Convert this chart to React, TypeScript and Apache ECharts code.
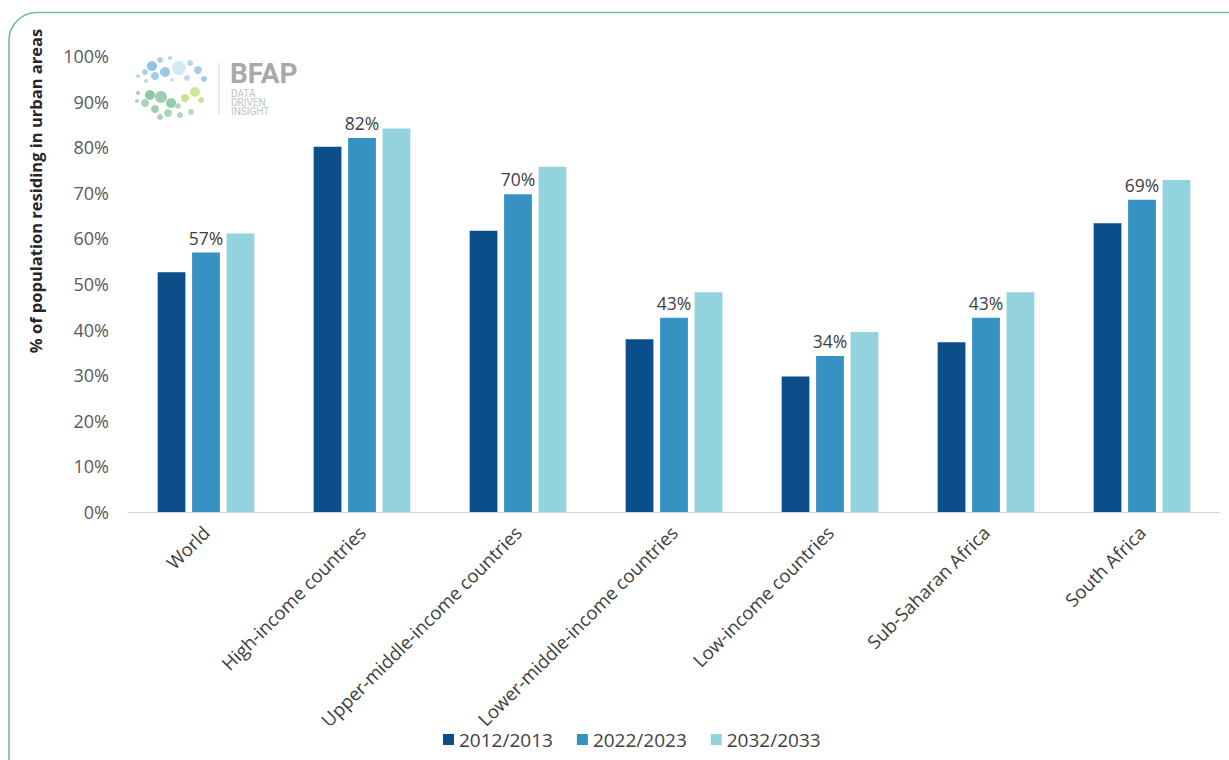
import React, { useEffect, useRef } from "react";
import * as echarts from "echarts";

const categories = [
  "World",
  "High-income countries",
  "Upper-middle-income countries",
  "Lower-middle-income countries",
  "Low-income countries",
  "Sub-Saharan Africa",
  "South Africa",
];
const seriesNames = ["2012/2013", "2022/2023", "2032/2033"];
const values2012 = [52.6, 80.1, 61.7, 37.9, 29.7, 37.2, 63.3];
const values2022 = [56.9, 82.0, 69.7, 42.6, 34.2, 42.6, 68.5];
const values2032 = [61.1, 84.1, 75.7, 48.2, 39.5, 48.2, 72.8];
const yTicks = [0, 10, 20, 30, 40, 50, 60, 70, 80, 90, 100];

const colors = ["#0b4e8a", "#3592c2", "#93d3dd"];
const FONT = "'Open Sans', 'Noto Sans', sans-serif";

const logoBlue: [number, number, number, string][] = [
  [152, 66, 5, "#8fc2e0"],
  [145, 72, 3, "#a9d1e8"],
  [138, 76, 2, "#b7d9ec"],
  [160, 60, 3, "#a9d1e8"],
  [170, 58, 2, "#b7d9ec"],
  [179, 68, 7, "#d3e9f2"],
  [165, 72, 5, "#9cc9e3"],
  [155, 76, 4, "#a3cde6"],
  [190, 63, 3, "#b4d8eb"],
  [198, 70, 4, "#a6d0e6"],
  [204, 79, 3, "#9ccbe4"],
  [187, 78, 3, "#b9dbed"],
  [146, 81, 2, "#b7d9ec"],
  [172, 80, 2, "#c5e1ef"],
];
const logoGreen: [number, number, number, string][] = [
  [138, 93, 2, "#9fd3b4"],
  [150, 95, 5, "#8fcaa6"],
  [161, 97, 6, "#9ccfae"],
  [171, 103, 5, "#95cba8"],
  [145, 103, 4, "#a6d6b8"],
  [155, 109, 4, "#9ccfae"],
  [168, 113, 4, "#a6d6b8"],
  [180, 115, 3, "#aad8bb"],
  [191, 112, 3, "#b3dbc0"],
  [185, 98, 4, "#c6e08c"],
  [195, 92, 5, "#d0e59c"],
  [201, 100, 3, "#c9e39a"],
  [178, 106, 3, "#b5dcb6"],
  [160, 117, 3, "#a6d6b8"],
  [137, 101, 2, "#a6d6b8"],
];

export default function App() {
  const ref = useRef<HTMLDivElement>(null);

  useEffect(() => {
    if (!ref.current) return;
    const chart = echarts.init(ref.current, undefined, { renderer: "svg" });

    const logo: any[] = [...logoBlue, ...logoGreen].map(([cx, cy, r, c]) => ({
      type: "circle",
      shape: { cx, cy, r },
      style: { fill: c },
      silent: true,
    }));

    chart.setOption({
      animation: false,
      backgroundColor: "#ffffff",
      grid: { left: 128, right: 9, top: 56, bottom: 248, containLabel: false },
      legend: {
        data: seriesNames,
        bottom: 6,
        left: 438,
        icon: "rect",
        itemWidth: 11,
        itemHeight: 11,
        itemGap: 24,
        textStyle: { fontFamily: FONT, fontSize: 19, color: "#404040" },
      },
      xAxis: {
        type: "category",
        data: categories,
        axisLine: { show: true, lineStyle: { color: "#d9d9d9", width: 1 } },
        axisTick: { show: false },
        axisLabel: {
          rotate: 45,
          interval: 0,
          margin: 17,
          fontFamily: FONT,
          fontSize: 18.5,
          color: "#404040",
        },
      },
      yAxis: {
        type: "value",
        min: yTicks[0],
        max: yTicks[yTicks.length - 1],
        interval: 10,
        splitLine: { show: false },
        axisLine: { show: false },
        axisTick: { show: false },
        axisLabel: {
          formatter: "{value}%",
          margin: 19,
          fontFamily: FONT,
          fontSize: 18,
          color: "#595959",
        },
      },
      series: [
        {
          name: seriesNames[0],
          type: "bar",
          data: values2012,
          itemStyle: { color: colors[0] },
          barGap: "24%",
          barCategoryGap: "38%",
        },
        {
          name: seriesNames[1],
          type: "bar",
          data: values2022,
          itemStyle: { color: colors[1] },
          label: {
            show: true,
            position: "top",
            distance: 6,
            formatter: (p: any) => Math.round(p.value) + "%",
            fontFamily: FONT,
            fontSize: 17.5,
            color: "#404040",
          },
        },
        {
          name: seriesNames[2],
          type: "bar",
          data: values2032,
          itemStyle: { color: colors[2] },
        },
      ],
      graphic: [
        {
          type: "rect",
          shape: { x: 9, y: 12.5, width: 1400, height: 1000, r: 28 },
          style: { fill: "none", stroke: "#6fb8b4", lineWidth: 1.6 },
          silent: true,
          z: 100,
        },
        {
          type: "text",
          x: 35,
          y: 191,
          rotation: Math.PI / 2,
          style: {
            text: "% of population residing in urban areas",
            fontFamily: FONT,
            fontSize: 16.5,
            fontWeight: "bold",
            fill: "#262626",
            align: "center",
            verticalAlign: "middle",
          },
        },
        ...logo,
        {
          type: "line",
          shape: { x1: 219, y1: 63, x2: 219, y2: 114 },
          style: { stroke: "#d6d6d6", lineWidth: 1 },
        },
        {
          type: "text",
          x: 230,
          y: 59,
          style: {
            text: "BFAP",
            fontFamily: "Roboto, 'Noto Sans', sans-serif",
            fontSize: 28,
            fontWeight: "bold",
            fill: "#a9a9a9",
          },
        },
        {
          type: "text",
          x: 231,
          y: 89,
          style: {
            text: "DATA\nDRIVEN\nINSIGHT",
            fontFamily: "Roboto, 'Noto Sans', sans-serif",
            fontSize: 10,
            lineHeight: 9,
            fill: "#c2c2c2",
          },
        },
      ],
    });

    return () => chart.dispose();
  }, []);

  return (
    <div
      ref={ref}
      style={{ position: "fixed", left: 0, top: 0, width: 1229, height: 760 }}
    />
  );
}
